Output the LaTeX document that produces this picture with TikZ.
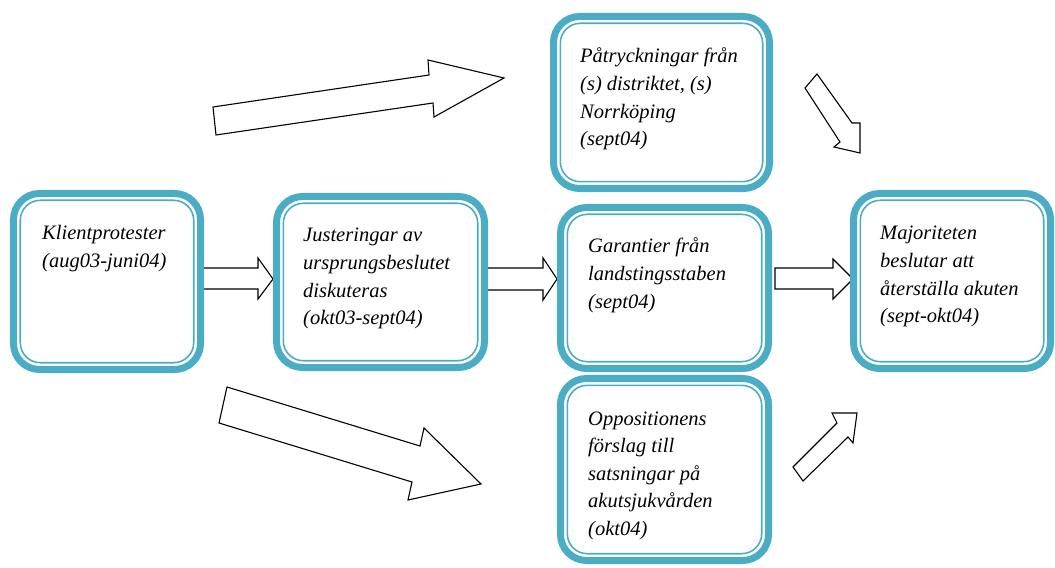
\documentclass[tikz,border=0pt]{standalone}
\usepackage{fontspec}
\setmainfont{Liberation Serif}
\usetikzlibrary{calc}
\definecolor{tealband}{RGB}{75,172,198}
% stack of left-aligned lines whose baseline is the first line
\newcommand\txtlines[1]{\vtop{\halign{##\hfil\cr#1\crcr}}}
\tikzset{
  tealbox/.style={draw=tealband, line width=7bp, rounded corners=26bp,
    inner sep=0pt, outer sep=0pt},
  innerline/.style={draw=tealband, line width=1.6bp, rounded corners=20bp},
  boxtext/.style={anchor=base west, inner sep=0pt,
    font=\fontsize{20.5bp}{27.6bp}\selectfont\itshape},
  blockarrow/.style={draw=black, line width=1.1bp, fill=white, line join=miter},
}
\begin{document}
\begin{tikzpicture}[x=1bp,y=-1bp]
\useasboundingbox (0,0) rectangle (1055,568);

% block arrows
\draw[blockarrow] (200,268) -- (258,268) -- (258,258) -- (273,279) -- (258,299) -- (258,289) -- (200,289) -- cycle;
\draw[blockarrow] (484,268) -- (543,268) -- (543,258) -- (557,279) -- (543,300) -- (543,290) -- (484,290) -- cycle;
\draw[blockarrow] (775,268) -- (833,268) -- (833,259) -- (853,279) -- (833,299) -- (833,289) -- (775,289) -- cycle;
\draw[blockarrow] (213,107) -- (429,75) -- (428,60) -- (504,78) -- (434,117) -- (433,103) -- (216,135) -- cycle;
\draw[blockarrow] (227,387) -- (420,446) -- (424,428) -- (481,484) -- (408,500) -- (412,482) -- (219,423) -- cycle;
\draw[blockarrow] (817,74) -- (852,123) -- (860,123) -- (860,153) -- (834,147) -- (840,142) -- (805,88) -- cycle;
\draw[blockarrow] (793,467) -- (837,423) -- (832,413) -- (857,413) -- (853,443) -- (848,437) -- (803,481) -- cycle;

% boxes
\node[tealbox, minimum width=187bp, minimum height=176bp] (klient) at (107,281.5) {};
\node[tealbox, minimum width=208bp, minimum height=171bp] (just) at (380.5,282) {};
\node[tealbox, minimum width=216bp, minimum height=172bp] (tryck) at (661.5,102.5) {};
\node[tealbox, minimum width=208bp, minimum height=161bp] (garanti) at (664.5,288) {};
\node[tealbox, minimum width=208bp, minimum height=182bp] (oppo) at (664.5,469.5) {};
\node[tealbox, minimum width=197bp, minimum height=175bp] (major) at (952,281) {};

\foreach \n in {klient,just,tryck,garanti,oppo,major}
  \draw[innerline] ($(\n.north west)+(6.8,6.8)$) rectangle ($(\n.south east)-(6.8,6.8)$);

% texts
\node[boxtext] (tklient) at (42,240) {\txtlines{Klientprotester\cr (aug03-juni04)}};
\node[boxtext] (tjust) at (303,242) {\txtlines{Justeringar av\cr ursprungsbeslutet\cr diskuteras\cr (okt03-sept04)}};
\node[boxtext] (ttryck) at (580,63) {\txtlines{Påtryckningar från\cr (s) distriktet, (s)\cr Norrköping\cr (sept04)}};
\node[boxtext] (tgaranti) at (588,253) {\txtlines{Garantier från\cr landstingsstaben\cr (sept04)}};
\node[boxtext] (tmajor) at (880,240) {\txtlines{Majoriteten\cr beslutar att\cr återställa akuten\cr (sept-okt04)}};
\node[boxtext] (toppo) at (588,425) {\txtlines{Oppositionens\cr förslag till\cr satsningar på\cr akutsjukvården\cr (okt04)}};
\end{tikzpicture}
\end{document}
